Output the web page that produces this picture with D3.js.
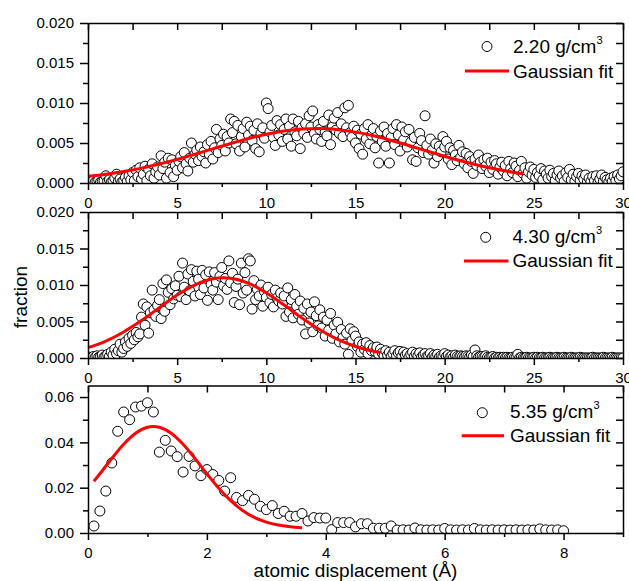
<!DOCTYPE html>
<html><head><meta charset="utf-8">
<script src="https://cdn.jsdelivr.net/npm/d3@7"></script>
<style>
body{margin:0;background:#fff}
svg{display:block}
text{font-family:"Liberation Sans",Arial,sans-serif;fill:#000}
</style>
</head><body>
<svg id="chart" width="629" height="581"></svg>
<script>
// ---------- DATA ----------
const binWidth = 0.1; // displacement bin width (Å); point i sits at (i+1)*binWidth

// fraction, 2.20 g/cm3 (x = 0.1 ... 30.0)
const frac220 = [
.0002,.0001,.0003,.0001,.0002,.0004,.0001,.0002,.0003,.0009,
.0002,.0004,.0001,.0003,.0006,.0011,.0002,.0005,.0001,.0003,
.0007,.0002,.0009,.0004,.0013,.0003,.0016,.0008,.0019,.0005,
.0011,.0021,.0003,.0017,.0009,.0024,.0006,.0014,.0020,.0010,
.0034,.0018,.0026,.0006,.0031,.0013,.0029,.0008,.0022,.0016,
.0027,.0033,.0019,.0038,.0024,.0015,.0031,.0050,.0026,.0036,
.0041,.0028,.0045,.0033,.0039,.0025,.0048,.0036,.0052,.0030,
.0044,.0067,.0038,.0055,.0047,.0061,.0040,.0058,.0050,.0080,
.0063,.0077,.0049,.0072,.0040,.0058,.0068,.0045,.0076,.0060,
.0071,.0053,.0066,.0043,.0074,.0039,.0062,.0069,.0056,.0100,
.0093,.0064,.0072,.0057,.0047,.0078,.0060,.0073,.0052,.0067,
.0080,.0055,.0071,.0046,.0080,.0064,.0059,.0077,.0043,.0069,
.0062,.0074,.0057,.0084,.0070,.0090,.0062,.0055,.0073,.0067,
.0052,.0077,.0064,.0059,.0085,.0048,.0070,.0081,.0066,.0088,
.0062,.0074,.0058,.0094,.0069,.0097,.0063,.0057,.0071,.0050,
.0066,.0043,.0061,.0036,.0068,.0055,.0073,.0049,.0060,.0068,
.0044,.0058,.0025,.0065,.0052,.0070,.0046,.0062,.0025,.0057,
.0068,.0048,.0073,.0060,.0040,.0070,.0054,.0064,.0045,.0067,
.0051,.0029,.0057,.0027,.0044,.0062,.0053,.0038,.0084,.0047,
.0036,.0055,.0041,.0025,.0049,.0033,.0046,.0039,.0058,.0045,
.0052,.0030,.0044,.0023,.0041,.0035,.0028,.0047,.0032,.0039,
.0024,.0037,.0019,.0033,.0027,.0012,.0030,.0022,.0035,.0026,
.0018,.0029,.0021,.0031,.0013,.0026,.0017,.0028,.0024,.0011,
.0020,.0026,.0015,.0022,.0009,.0027,.0018,.0013,.0025,.0021,
.0008,.0016,.0027,.0012,.0019,.0006,.0014,.0020,.0010,.0017,
.0007,.0013,.0009,.0018,.0004,.0015,.0011,.0006,.0016,.0008,
.0012,.0003,.0010,.0015,.0006,.0009,.0002,.0013,.0007,.0017,
.0004,.0011,.0002,.0008,.0012,.0003,.0009,.0005,.0010,.0001,
.0006,.0002,.0008,.0003,.0009,.0001,.0005,.0010,.0002,.0007,
.0004,.0001,.0006,.0002,.0008,.0003,.0010,.0005,.0009,.0014
];

// fraction, 4.30 g/cm3 (x = 0.1 ... 30.0)
const frac430 = [
.0001,0,.0002,.0001,.0003,.0001,.0002,.0004,.0001,.0003,
.0005,.0002,.0008,.0004,.0012,.0006,.0010,.0019,.0008,.0013,
.0022,.0016,.0027,.0020,.0031,.0025,.0035,.0029,.0033,.0056,
.0074,.0045,.0070,.0034,.0062,.0093,.0066,.0057,.0072,.0080,
.0054,.0102,.0064,.0107,.0090,.0073,.0095,.0081,.0099,.0086,
.0112,.0084,.0130,.0097,.0080,.0115,.0092,.0121,.0105,.0085,
.0119,.0108,.0087,.0120,.0096,.0114,.0079,.0118,.0101,.0093,
.0117,.0104,.0080,.0112,.0124,.0099,.0109,.0094,.0133,.0103,
.0116,.0076,.0098,.0108,.0073,.0130,.0089,.0117,.0093,.0136,
.0133,.0067,.0106,.0080,.0094,.0085,.0100,.0071,.0091,.0083,
.0097,.0076,.0087,.0070,.0093,.0082,.0078,.0089,.0074,.0085,
.0057,.0096,.0063,.0080,.0055,.0087,.0071,.0060,.0078,.0052,
.0068,.0033,.0074,.0048,.0063,.0036,.0077,.0058,.0044,.0066,
.0041,.0056,.0030,.0052,.0038,.0061,.0027,.0045,.0033,.0049,
.0022,.0039,.0028,.0019,.0034,.0005,.0040,.0024,.0036,.0030,
.0016,.0022,.0008,.0019,.0012,.0021,.0006,.0017,.0010,.0014,
.0009,.0015,.0005,.0012,.0007,.0003,.0010,.0004,.0008,.0002,
.0006,.0010,.0003,.0007,.0009,.0002,.0008,.0004,.0006,.0001,
.0005,.0008,.0002,.0006,.0003,.0007,.0001,.0004,.0006,.0002,
.0003,.0006,.0001,.0004,.0002,.0005,.0001,.0003,.0002,.0006,
.0002,.0004,.0001,.0003,.0001,.0004,.0002,.0001,.0003,.0002,
.0001,.0003,.0002,.0001,.0004,.0002,.0011,.0003,.0001,.0002,
.0002,.0001,.0003,.0001,0,.0001,.0002,0,.0001,0,
.0001,0,.0001,0,.0001,0,0,.0001,0,0,
.0005,0,.0001,0,0,.0001,0,0,0,.0001,
0,.0001,0,0,.0001,0,0,0,.0001,0,
0,0,.0001,0,0,0,.0001,0,0,0,
.0001,0,0,0,0,.0001,0,0,0,0,
0,0,.0001,0,0,0,0,0,.0001,0,
0,0,0,.0001,0,0,0,0,0,0
];

// fraction, 5.35 g/cm3 (x = 0.1 ... 8.0)
const frac535 = [
.0031,.0097,.0185,.0309,.0449,.0534,.0500,.0556,.0560,.0575,
.0534,.0357,.0409,.0362,.0337,.0269,.0338,.0296,.0253,.0280,
.0258,.0232,.0185,.0244,.0157,.0143,.0166,.0149,.0118,.0103,
.0121,.0086,.0096,.0074,.0074,.0086,.0053,.0068,.0066,.0066,
.0015,.0046,.0046,.0046,.0027,.0041,.0041,.0021,.0021,.0021,
.0031,.0013,.0014,.0013,.0022,.0014,.0013,.0014,.0013,.0020,
.0014,.0013,.0014,.0013,.0020,.0014,.0013,.0014,.0013,.0014,
.0013,.0014,.0013,.0014,.0013,.0018,.0014,.0013,.0014,.0010
];

// Gaussian fit curves
const fit220X = [0,1,2,3,4,5,6,7,8,9,10,11,12,13,14,15,16,17,18,19,20,21,22,23,24,24.4];
const fit220Y = [.00083,.00109,.00144,.00186,.00237,.00295,.0036,.00427,.00494,.00556,.0061,.0065,.00674,.0068,.00667,.00636,.0059,.00532,.00468,.004,.00334,.00271,.00216,.00168,.00129,.00116];
const fit430X = [0,1,2,3,4,5,6,7,7.6,8,9,10,11,12,13,14,15,16,16.4];
const fit430Y = [.00142,.00232,.00357,.00513,.00689,.00862,.01003,.01086,.0110,.01094,.01025,.00893,.00725,.00547,.00386,.00254,.00158,.00093,.00074];
const fit535X = [0.1,0.2,0.4,0.6,0.8,1.0,1.1,1.2,1.4,1.6,1.8,2.0,2.2,2.4,2.6,2.8,3.0,3.2,3.4,3.6];
const fit535Y = [.02285,.02613,.03287,.03913,.04399,.04665,.047,.04665,.04399,.03913,.03287,.02613,.01974,.01426,.00997,.00687,.0048,.00351,.00277,.00237];

// tick values
const xMajor30 = [0,5,10,15,20,25,30];
const xMinor30 = [2.5,7.5,12.5,17.5,22.5,27.5];
const xMajor9 = [0,2,4,6,8];
const xMinor9 = [1,3,5,7,9];
const yMajor20 = [0,0.005,0.010,0.015,0.020];
const yMinor20 = [0.0025,0.0075,0.0125,0.0175];
const yMajor06 = [0,0.02,0.04,0.06];
const yMinor06 = [0.01,0.03,0.05];

const densities = ["2.20","4.30","5.35"];
const fitLabel = "Gaussian fit";
const xTitle = "atomic displacement (Å)";
const yTitle = "fraction";

// ---------- LAYOUT ----------
const svg = d3.select("#chart");
const L = 88, R = 623;

const panels = [
  {id:1, vals:frac220, fx:fit220X, fy:fit220Y, dens:densities[0], xMax:30, yMax:0.020, top:23, bottom:183,
   xMajor:xMajor30, xMinor:xMinor30, yMajor:yMajor20, yMinor:yMinor20, fmt:d3.format(".3f"),
   leg:{cx:487, cy:46.5, tx:513, ty:53, lx1:465, lx2:509, ly:71, gy:77.5}},
  {id:2, vals:frac430, fx:fit430X, fy:fit430Y, dens:densities[1], xMax:30, yMax:0.020, top:212, bottom:358,
   xMajor:xMajor30, xMinor:xMinor30, yMajor:yMajor20, yMinor:yMinor20, fmt:d3.format(".3f"),
   leg:{cx:485.7, cy:237.3, tx:512.5, ty:243.3, lx1:464, lx2:508.5, ly:261, gy:267.3}},
  {id:3, vals:frac535, fx:fit535X, fy:fit535Y, dens:densities[2], xMax:9, yMax:0.0651, top:385.5, bottom:533,
   xMajor:xMajor9, xMinor:xMinor9, yMajor:yMajor06, yMinor:yMinor06, fmt:d3.format(".2f"),
   leg:{cx:482.3, cy:412.7, tx:510, ty:417.7, lx1:461.7, lx2:504, ly:435.7, gy:441.7}}
];

function styleAxis(g, fontSize){
  g.attr("font-family", null).attr("font-size", null);
  g.selectAll("path.domain").attr("stroke","#000").attr("stroke-width",1.5);
  g.selectAll(".tick line").attr("stroke","#000").attr("stroke-width",1.5);
  g.selectAll(".tick text").attr("font-size", fontSize).attr("fill","#000");
}

panels.forEach(p => {
  const x = d3.scaleLinear().domain([0, p.xMax]).range([L, R]);
  const y = d3.scaleLinear().domain([0, p.yMax]).range([p.bottom, p.top]);
  const clipId = "clip" + p.id;
  svg.append("clipPath").attr("id", clipId).append("rect")
    .attr("x", L).attr("y", p.top).attr("width", R - L).attr("height", p.bottom - p.top);

  const pts = p.vals.map((v, i) => ({x: (i + 1) * binWidth, y: v}));
  svg.append("g").attr("clip-path", `url(#${clipId})`)
    .selectAll("circle").data(pts).join("circle")
    .attr("cx", d => x(d.x)).attr("cy", d => y(d.y)).attr("r", 5)
    .attr("fill", "#fff").attr("stroke", "#000").attr("stroke-width", 1);

  const line = d3.line().x(d => x(d[0])).y(d => y(d[1])).curve(d3.curveMonotoneX);
  svg.append("path").datum(p.fx.map((xv, i) => [xv, p.fy[i]]))
    .attr("d", line).attr("fill", "none").attr("stroke", "#ff0000").attr("stroke-width", 3);

  // bottom axis
  const gb = svg.append("g").attr("transform", `translate(0,${p.bottom})`)
    .call(d3.axisBottom(x).tickValues(p.xMajor).tickSize(7).tickPadding(7).tickSizeOuter(0).tickFormat(d3.format("d")));
  styleAxis(gb, 15);
  const gbm = svg.append("g").attr("transform", `translate(0,${p.bottom})`)
    .call(d3.axisBottom(x).tickValues(p.xMinor).tickSize(4).tickSizeOuter(0).tickFormat(""));
  gbm.select("path.domain").remove(); styleAxis(gbm, 15);

  // top axis (inward ticks, no labels)
  const topTicks = p.xMajor.concat(p.xMinor);
  const gt = svg.append("g").attr("transform", `translate(0,${p.top})`)
    .call(d3.axisTop(x).tickValues(topTicks).tickSize(-7).tickSizeOuter(0).tickFormat(""));
  styleAxis(gt, 15);

  // left axis
  const gl = svg.append("g").attr("transform", `translate(${L},0)`)
    .call(d3.axisLeft(y).tickValues(p.yMajor).tickSize(8).tickPadding(6).tickSizeOuter(0).tickFormat(p.fmt));
  styleAxis(gl, 15);
  const glm = svg.append("g").attr("transform", `translate(${L},0)`)
    .call(d3.axisLeft(y).tickValues(p.yMinor).tickSize(5).tickSizeOuter(0).tickFormat(""));
  glm.select("path.domain").remove(); styleAxis(glm, 15);

  // right axis (inward ticks)
  const gr = svg.append("g").attr("transform", `translate(${R},0)`)
    .call(d3.axisRight(y).tickValues(p.yMajor.concat(p.yMinor)).tickSize(-7).tickSizeOuter(0).tickFormat(""));
  styleAxis(gr, 15);

  // legend
  const lg = p.leg;
  svg.append("circle").attr("cx", lg.cx).attr("cy", lg.cy).attr("r", 5)
    .attr("fill", "#fff").attr("stroke", "#000").attr("stroke-width", 1);
  const t = svg.append("text").attr("x", lg.tx).attr("y", lg.ty).attr("font-size", 19);
  t.append("tspan").text(p.dens + " g/cm");
  t.append("tspan").attr("font-size", 11).attr("dy", -9).text("3");
  svg.append("line").attr("x1", lg.lx1).attr("x2", lg.lx2).attr("y1", lg.ly).attr("y2", lg.ly)
    .attr("stroke", "#ff0000").attr("stroke-width", 3);
  svg.append("text").attr("x", lg.tx).attr("y", lg.gy).attr("font-size", 19).text(fitLabel);
});

// axis titles
svg.append("text").attr("x", (L + R) / 2).attr("y", 577).attr("text-anchor", "middle")
  .attr("font-size", 19).text(xTitle);
svg.append("text").attr("transform", "translate(27,297) rotate(-90)").attr("text-anchor", "middle")
  .attr("font-size", 19).text(yTitle);
</script>
</body></html>
